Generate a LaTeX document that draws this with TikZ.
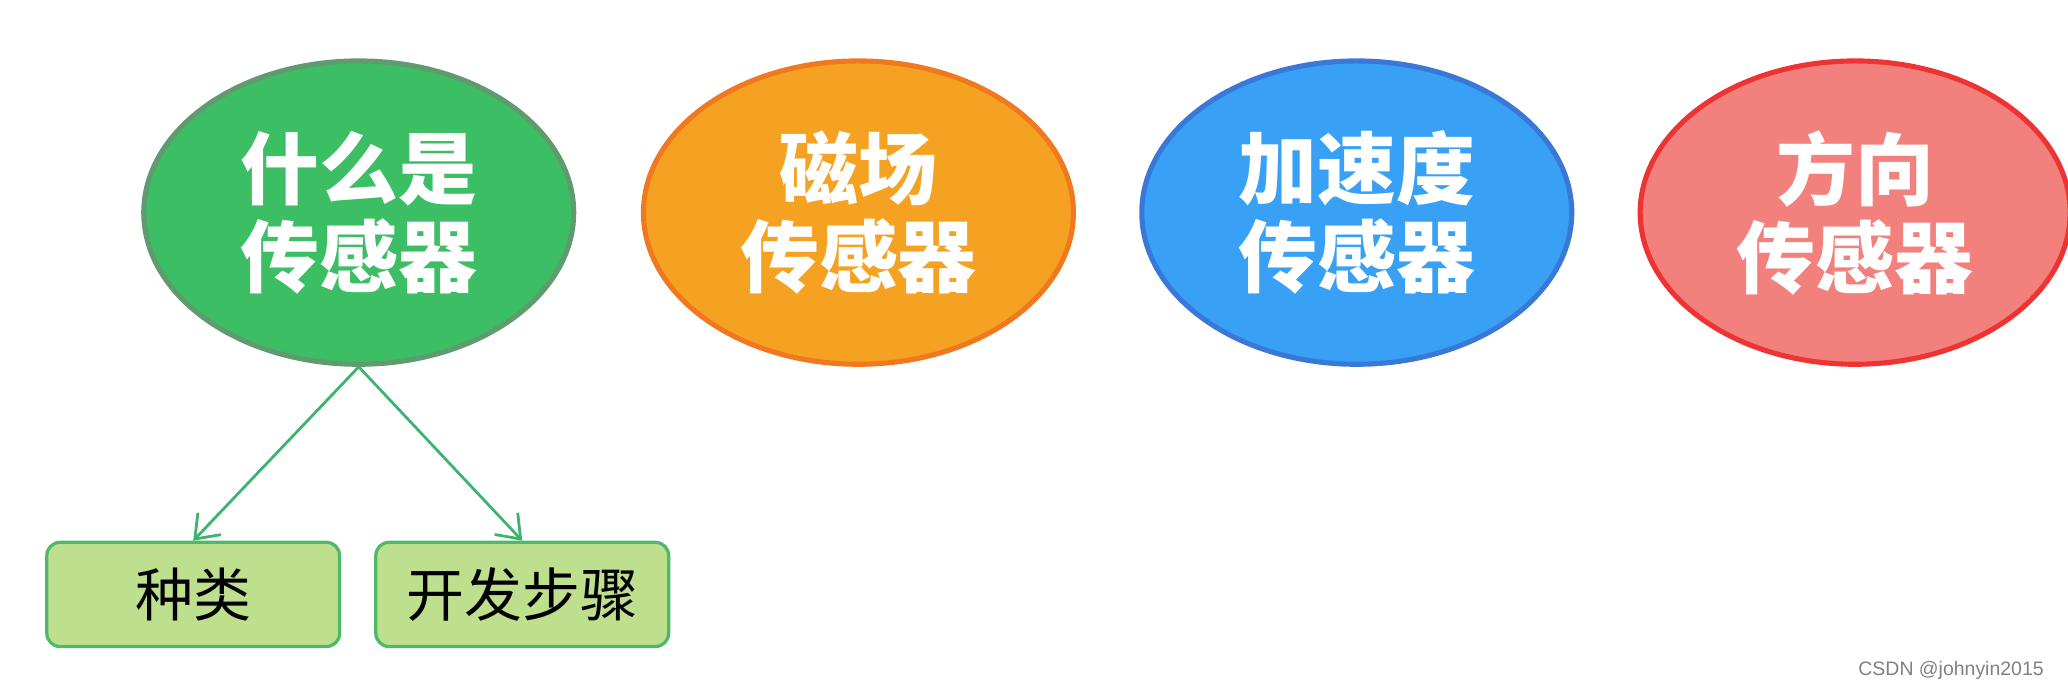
\documentclass[tikz,border=0pt]{standalone}
\usepackage{fontspec}
\newfontfamily\cjk{Noto Sans CJK SC}
\setsansfont{Liberation Sans}
\usetikzlibrary{shapes.geometric,positioning,arrows.meta}
\definecolor{mygreen}{RGB}{60,190,100}
\definecolor{mygreenline}{RGB}{95,155,110}
\definecolor{myorange}{RGB}{245,162,35}
\definecolor{myorangeline}{RGB}{240,120,30}
\definecolor{myblue}{RGB}{56,160,245}
\definecolor{myblueline}{RGB}{58,120,215}
\definecolor{myred}{RGB}{242,128,125}
\definecolor{myredline}{RGB}{238,52,50}
\definecolor{mylime}{RGB}{190,224,142}
\definecolor{myboxline}{RGB}{80,185,105}
\definecolor{myarrow}{RGB}{60,180,110}

\begin{document}
\begin{tikzpicture}[bignode/.style={ellipse,line width=1.1pt,inner sep=0pt,
  minimum width=3.26cm,minimum height=2.3cm,align=center,text=white,
  font=\cjk\bfseries\fontsize{17}{19}\selectfont},
  subnode/.style={draw=myboxline,fill=mylime,line width=0.7pt,rounded corners=0.1cm,
  minimum width=2.22cm,minimum height=0.79cm,inner sep=0pt,
  font=\cjk\fontsize{12.5}{14}\selectfont},
  link/.style={draw=myarrow,line width=0.6pt,-{Straight Barb[length=0.16cm,width=0.24cm]}}]

  \useasboundingbox (0,0) rectangle (15.68,5.232);

  \node[bignode,fill=mygreen,draw=mygreenline] (what) at (2.72,3.62) {什么是\\传感器};

  \node[bignode,fill=myorange,draw=myorangeline,right=0.49cm of what] (magnet) {磁场\\传感器};

  \node[bignode,fill=myblue,draw=myblueline,right=0.48cm of magnet] (accel) {加速度\\传感器};

  \node[bignode,fill=myred,draw=myredline,right=0.48cm of accel] (orient) {方向\\传感器};

  \node[subnode] (kinds) at (1.465,0.725) {种类};
  \node[subnode,right=0.25cm of kinds] (steps) {开发步骤};

  % arrows down to the two boxes
  \draw[link] (what.south) -- (kinds.north);
  \draw[link] (what.south) -- (steps.north);

  \node[anchor=east,text=gray,font=\sffamily\fontsize{4.2}{5}\selectfont] (mark) at (15.62,0.15) {CSDN @johnyin2015};

\end{tikzpicture}
\end{document}
